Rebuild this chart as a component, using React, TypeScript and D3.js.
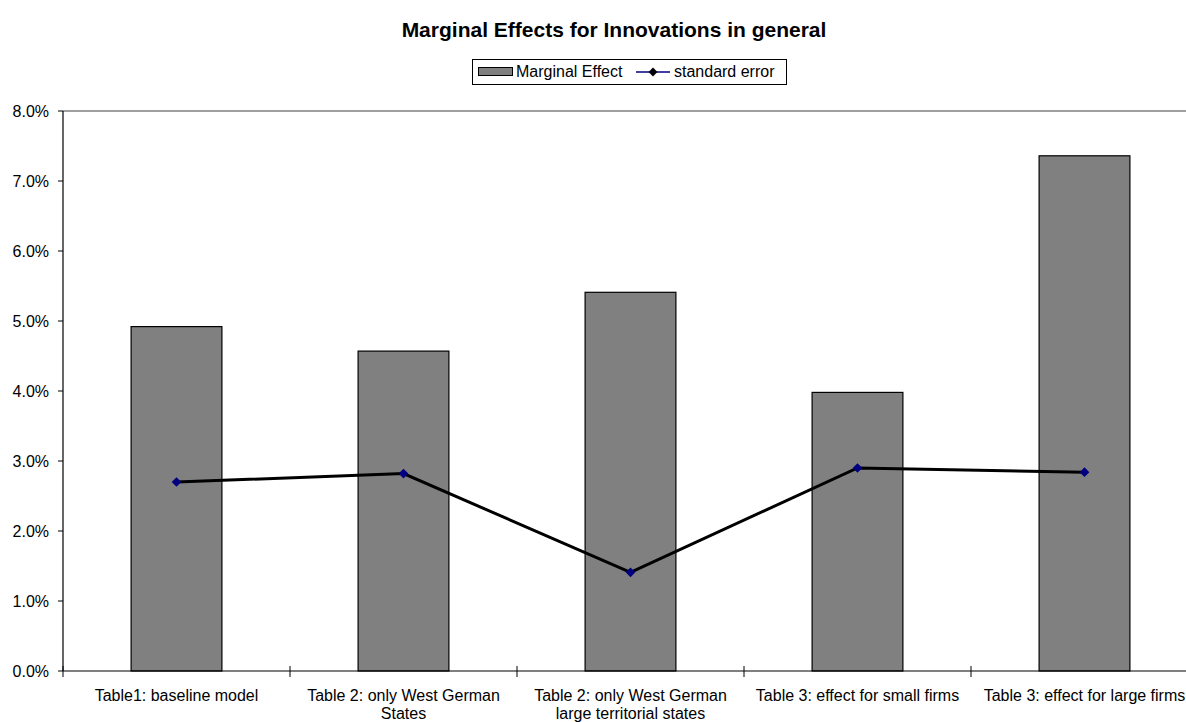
import React, { useEffect, useRef } from "react";
import * as d3 from "d3";

const categories: string[][] = [
  ["Table1: baseline model"],
  ["Table 2: only West German", "States"],
  ["Table 2: only West German", "large territorial states"],
  ["Table 3: effect for small firms"],
  ["Table 3: effect for large firms"],
];
const marginalEffect: number[] = [0.0492, 0.0457, 0.0541, 0.0398, 0.0736];
const standardError: number[] = [0.027, 0.0282, 0.0141, 0.029, 0.0284];
const yTicks: number[] = [0, 0.01, 0.02, 0.03, 0.04, 0.05, 0.06, 0.07, 0.08];

const W = 1186;
const H = 722;
const FONT = "Arial, 'Liberation Sans', sans-serif";

export default function App() {
  const ref = useRef<SVGSVGElement>(null);

  useEffect(() => {
    const svg = d3.select(ref.current);
    svg.selectAll("*").remove();

    const left = 63, right = 1198, top = 111, bottom = 671;
    const idx = categories.map((_, i) => String(i));
    const x = d3.scaleBand().domain(idx).range([left, right]).paddingInner(0.6).paddingOuter(0.3);
    const xOuter = d3.scaleBand().domain(idx).range([left, right]);
    const y = d3.scaleLinear().domain([0, 0.08]).range([bottom, top]);

    // title
    svg.append("text").attr("x", 614).attr("y", 37).attr("text-anchor", "middle")
      .attr("font-family", FONT).attr("font-weight", "bold").attr("font-size", 21)
      .text("Marginal Effects for Innovations in general");

    // legend
    const lg = svg.append("g");
    lg.append("rect").attr("x", 472.5).attr("y", 59.5).attr("width", 314).attr("height", 25)
      .attr("fill", "white").attr("stroke", "black").attr("stroke-width", 1);
    lg.append("rect").attr("x", 478.5).attr("y", 67.5).attr("width", 34).attr("height", 8)
      .attr("fill", "#808080").attr("stroke", "black").attr("stroke-width", 1);
    lg.append("text").attr("x", 516).attr("y", 77).attr("font-family", FONT).attr("font-size", 16)
      .text("Marginal Effect");
    lg.append("line").attr("x1", 636).attr("x2", 670).attr("y1", 72).attr("y2", 72)
      .attr("stroke", "#000080").attr("stroke-width", 1.5);
    lg.append("path").attr("d", d3.symbol(d3.symbolDiamond2, 50)())
      .attr("transform", "translate(653,72)").attr("fill", "black");
    lg.append("text").attr("x", 674).attr("y", 77).attr("font-family", FONT).attr("font-size", 16)
      .text("standard error");

    // plot border (top/right grey)
    svg.append("path").attr("d", `M${left},${top}H${right}V${bottom}`)
      .attr("fill", "none").attr("stroke", "#808080").attr("stroke-width", 1.5);

    // bars
    svg.append("g").selectAll("rect").data(marginalEffect).join("rect")
      .attr("x", (_, i) => x(String(i))!)
      .attr("y", (d) => y(d))
      .attr("width", x.bandwidth())
      .attr("height", (d) => y(0) - y(d))
      .attr("fill", "#808080").attr("stroke", "black").attr("stroke-width", 1.2);

    // y axis
    const ya = svg.append("g");
    ya.append("line").attr("x1", left).attr("x2", left).attr("y1", top).attr("y2", bottom)
      .attr("stroke", "black").attr("stroke-width", 1.2);
    yTicks.forEach((t) => {
      ya.append("line").attr("x1", left - 5).attr("x2", left).attr("y1", y(t)).attr("y2", y(t))
        .attr("stroke", "black").attr("stroke-width", 1);
      ya.append("text").attr("x", 49).attr("y", y(t)).attr("dy", "0.35em").attr("text-anchor", "end")
        .attr("font-family", FONT).attr("font-size", 16).text(d3.format(".1%")(t));
    });

    // x axis
    const xa = svg.append("g");
    xa.append("line").attr("x1", left).attr("x2", right).attr("y1", bottom).attr("y2", bottom)
      .attr("stroke", "black").attr("stroke-width", 1.2);
    idx.forEach((k) => {
      const bx = xOuter(k)!;
      xa.append("line").attr("x1", bx).attr("x2", bx).attr("y1", bottom - 5).attr("y2", bottom + 6)
        .attr("stroke", "black").attr("stroke-width", 1);
    });
    xa.append("line").attr("x1", right).attr("x2", right).attr("y1", bottom - 5).attr("y2", bottom + 6)
      .attr("stroke", "black").attr("stroke-width", 1);
    categories.forEach((lines, i) => {
      const cx = xOuter(String(i))! + xOuter.bandwidth() / 2;
      lines.forEach((ln, j) => {
        xa.append("text").attr("x", cx).attr("y", 701 + j * 18).attr("text-anchor", "middle")
          .attr("font-family", FONT).attr("font-size", 16).text(ln);
      });
    });

    // line series
    const cxOf = (i: number) => x(String(i))! + x.bandwidth() / 2;
    const line = d3.line<number>().x((_, i) => cxOf(i)).y((d) => y(d));
    svg.append("path").datum(standardError).attr("d", line)
      .attr("fill", "none").attr("stroke", "black").attr("stroke-width", 3);
    svg.append("g").selectAll("path").data(standardError).join("path")
      .attr("d", d3.symbol(d3.symbolDiamond2, 60)())
      .attr("transform", (d, i) => `translate(${cxOf(i)},${y(d)})`)
      .attr("fill", "#000080");
  }, []);

  return (
    <svg ref={ref} width={W} height={H}
      style={{ position: "absolute", left: 0, top: 0, background: "white" }} />
  );
}
